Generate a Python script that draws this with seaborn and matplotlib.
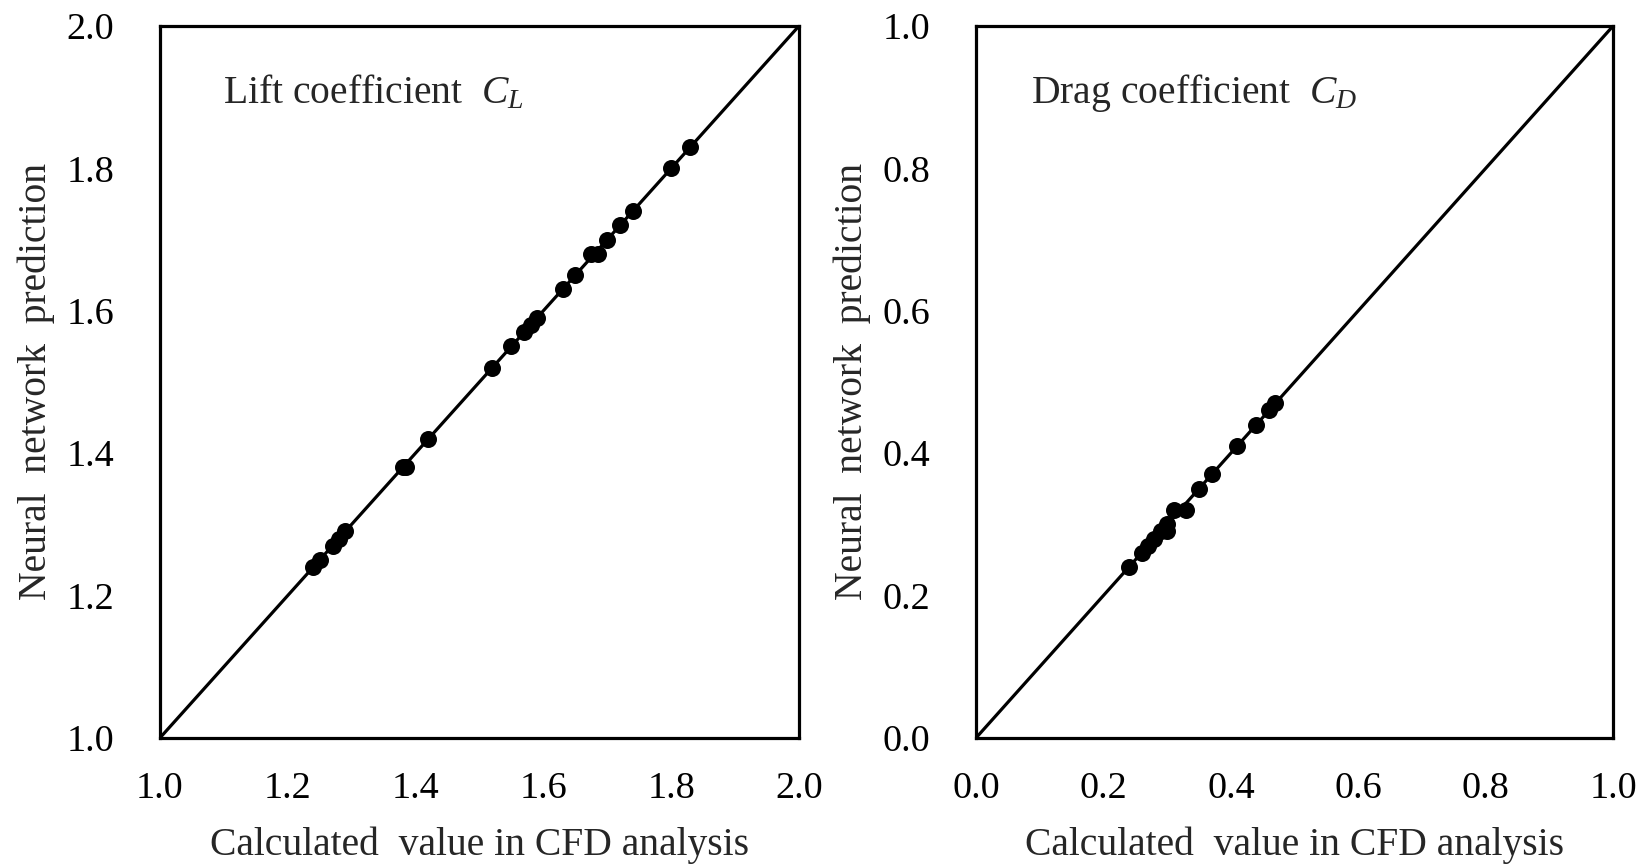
import matplotlib
matplotlib.use("Agg")
import matplotlib.pyplot as plt
import seaborn as sns
import pandas as pd

# Lift coefficient: CFD result vs. neural network prediction
cl_cfd = [1.24, 1.25, 1.27, 1.28, 1.29, 1.38, 1.385, 1.42, 1.52, 1.55,
          1.57, 1.58, 1.59, 1.63, 1.65, 1.675, 1.685, 1.70, 1.72, 1.74,
          1.80, 1.83]
cl_nn = [1.24, 1.25, 1.27, 1.28, 1.29, 1.38, 1.38, 1.42, 1.52, 1.55,
         1.57, 1.58, 1.59, 1.63, 1.65, 1.68, 1.68, 1.70, 1.72, 1.74,
         1.80, 1.83]

# Drag coefficient: CFD result vs. neural network prediction
cd_cfd = [0.24, 0.26, 0.27, 0.28, 0.29, 0.30, 0.30, 0.31, 0.33, 0.35,
          0.37, 0.41, 0.44, 0.46, 0.47]
cd_nn = [0.24, 0.26, 0.27, 0.28, 0.29, 0.29, 0.30, 0.32, 0.32, 0.35,
         0.37, 0.41, 0.44, 0.46, 0.47]

cl_range = [1.0, 2.0]
cd_range = [0.0, 1.0]
cl_ticks = [1.0, 1.2, 1.4, 1.6, 1.8, 2.0]
cd_ticks = [0.0, 0.2, 0.4, 0.6, 0.8, 1.0]

sns.set_style("white")
plt.rcParams["font.family"] = ["Liberation Serif", "DejaVu Serif"]
plt.rcParams["mathtext.fontset"] = "custom"
plt.rcParams["mathtext.rm"] = "Liberation Serif"
plt.rcParams["mathtext.it"] = "Liberation Serif:italic"

TICK_FS = 27.5
LABEL_FS = 28.5
fig = plt.figure(figsize=(16.41, 8.65), dpi=100)
ax_l = fig.add_axes([0.0975, 0.147, 0.3894, 0.823])
ax_r = fig.add_axes([0.5948, 0.147, 0.3882, 0.823])

panels = [
    (ax_l, cl_cfd, cl_nn, cl_range, cl_ticks, "Lift coefficient  $C_L$", 0.0986),
    (ax_r, cd_cfd, cd_nn, cd_range, cd_ticks, "Drag coefficient  $C_D$", 0.086),
]

for ax, xs, ys, rng, ticks, title, tx in panels:
    df = pd.DataFrame({"cfd": xs, "nn": ys})
    diag = pd.DataFrame({"cfd": rng, "nn": rng})
    sns.lineplot(data=diag, x="cfd", y="nn", ax=ax, color="black",
                 linewidth=2.3, zorder=2)
    sns.scatterplot(data=df, x="cfd", y="nn", ax=ax, color="black",
                    s=150, edgecolor="black", linewidth=0, zorder=3)
    ax.set_xlim(rng)
    ax.set_ylim(rng)
    ax.set_xticks(ticks)
    ax.set_yticks(ticks)
    ax.set_xticklabels([f"{t:.1f}" for t in ticks])
    ax.set_yticklabels([f"{t:.1f}" for t in ticks])
    ax.tick_params(axis="both", direction="in", length=8, width=2.2,
                   labelsize=TICK_FS, color="black", labelcolor="black")
    ax.tick_params(axis="x", pad=24)
    ax.tick_params(axis="y", pad=33)
    for sp in ax.spines.values():
        sp.set_visible(True)
        sp.set_color("black")
        sp.set_linewidth(2.3)
    ax.set_xlabel("Calculated  value in CFD analysis", fontsize=LABEL_FS,
                  labelpad=15)
    ax.set_ylabel("Neural  network  prediction", fontsize=LABEL_FS,
                  labelpad=8)
    ax.text(tx, 0.892, title, transform=ax.transAxes, fontsize=LABEL_FS,
            ha="left", va="baseline")

fig.savefig("out.png", dpi=100)
